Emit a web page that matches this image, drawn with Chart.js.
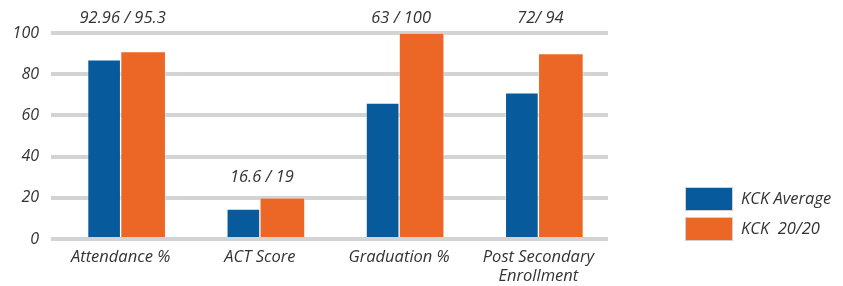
<!DOCTYPE html>
<html>
<head>
<meta charset="utf-8">
<script src="https://cdn.jsdelivr.net/npm/chart.js@4.4.0/dist/chart.umd.min.js"></script>
<style>
  html, body { margin: 0; padding: 0; background: #fff; }
</style>
</head>
<body>
<canvas id="myChart" width="843" height="286"></canvas>
<script>
const categories = ['Attendance %', 'ACT Score', 'Graduation %', ['Post Secondary', 'Enrollment']];
const kckAverage = [87, 14.5, 66, 71];
const kck2020 = [91, 20, 100, 90];
const groupLabels = ['92.96 / 95.3', '16.6 / 19', '63 / 100', '72/ 94'];
const yTicks = [0, 20, 40, 60, 80, 100];

const FONT = '"Open Sans", "DejaVu Sans", sans-serif';
const TEXT = '#333333';

// text above each pair of bars
const groupLabelPlugin = {
  id: 'groupLabels',
  afterDatasetsDraw(chart) {
    const { ctx, chartArea, scales: { x, y } } = chart;
    ctx.save();
    ctx.font = 'italic 16.5px ' + FONT;
    ctx.fillStyle = TEXT;
    ctx.textAlign = 'center';
    ctx.textBaseline = 'middle';
    groupLabels.forEach((txt, i) => {
      const top = Math.max(kckAverage[i], kck2020[i]);
      const py = top > 60 ? chartArea.top - 15 : y.getPixelForValue(top) - 21;
      ctx.fillText(txt, x.getPixelForValue(i) + 2, py);
    });
    ctx.restore();
  }
};

// legend sitting low on the right
const sideLegend = {
  id: 'sideLegend',
  afterDraw(chart) {
    const { ctx, chartArea } = chart;
    const left = chartArea.right + 77;
    let top = chartArea.bottom - 52;
    ctx.save();
    chart.data.datasets.forEach(ds => {
      ctx.fillStyle = ds.backgroundColor;
      ctx.fillRect(left, top, 48, 24);
      ctx.strokeStyle = '#d0d0d0';
      ctx.lineWidth = 1;
      ctx.strokeRect(left + 0.5, top + 0.5, 47, 23);
      ctx.fillStyle = TEXT;
      ctx.font = 'italic 16.5px ' + FONT;
      ctx.textAlign = 'left';
      ctx.textBaseline = 'middle';
      ctx.fillText(ds.label, left + 56, top + 12);
      top += 30;
    });
    ctx.restore();
  }
};

const ctx = document.getElementById('myChart');

new Chart(ctx, {
  type: 'bar',
  data: {
    labels: categories,
    datasets: [{
      label: 'KCK Average',
      data: kckAverage,
      backgroundColor: '#075a9c',
      borderColor: 'rgba(255,255,255,0.35)',
      borderWidth: 1,
      barThickness: 33
    }, {
      label: 'KCK  20/20',
      data: kck2020,
      backgroundColor: '#ec6626',
      borderColor: 'rgba(255,255,255,0.35)',
      borderWidth: 1,
      barThickness: 45
    }]
  },
  options: {
    responsive: false,
    devicePixelRatio: 1,
    animation: false,
    layout: { padding: { top: 33, left: 12, right: 235, bottom: 0 } },
    plugins: {
      legend: { display: false },
      tooltip: { enabled: false }
    },
    scales: {
      x: {
        grid: { display: false, drawTicks: false },
        border: { display: false },
        afterFit(scale) { scale.height = 47; scale.paddingLeft = 0; scale.paddingRight = 0; },
        ticks: {
          color: TEXT,
          padding: 9,
          maxRotation: 0,
          font: { family: FONT, size: 16.5, style: 'italic', lineHeight: '19px' }
        }
      },
      y: {
        min: yTicks[0],
        max: yTicks[yTicks.length - 1],
        grid: { color: '#d3d3d3', lineWidth: 4, drawTicks: false },
        border: { display: false },
        afterFit(scale) { scale.width = 39; },
        ticks: {
          stepSize: yTicks[1] - yTicks[0],
          color: TEXT,
          padding: 12,
          font: { family: FONT, size: 16, style: 'italic' }
        }
      }
    }
  },
  plugins: [groupLabelPlugin, sideLegend]
});
</script>
</body>
</html>
